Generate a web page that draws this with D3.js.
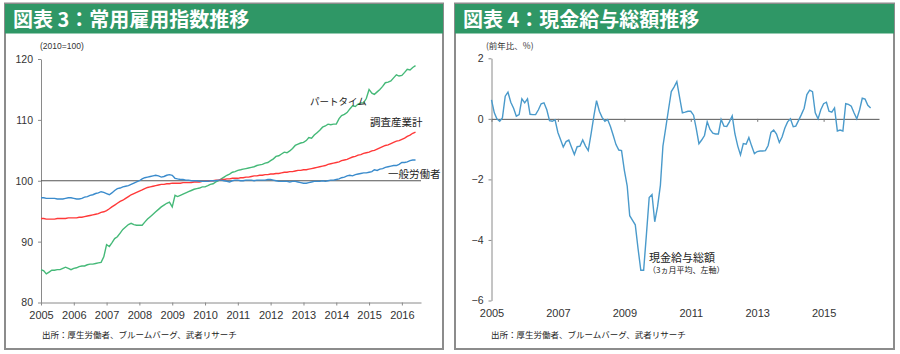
<!DOCTYPE html>
<html>
<head>
<meta charset="utf-8">
<script src="https://cdn.jsdelivr.net/npm/d3@7"></script>
<style>
    body { margin: 0; background: #ffffff; }
    text { font-family: "Liberation Sans", Arial, sans-serif; }
    .jp { font-family: "Noto Sans CJK JP", sans-serif; }
</style>
</head>
<body>
<script>
// monthly data, Jan 2005 - Jun 2016
let startYear = 2005;

let partTime = [
    85.4, 85.2, 84.7, 85.0, 85.3, 85.3, 85.4, 85.4, 85.6, 85.8, 85.6, 85.4,
    85.6, 85.7, 85.9, 86.0, 86.0, 86.2, 86.3, 86.3, 86.4, 86.5, 86.6, 87.5,
    89.5, 89.2, 89.8, 90.5, 90.8, 91.4, 92.0, 92.4, 92.8, 93.0, 92.8, 92.7,
    92.7, 92.7, 93.2, 93.7, 94.1, 94.5, 94.9, 95.3, 95.7, 96.0, 96.3, 96.5,
    95.7, 97.6, 97.4, 97.6, 97.8, 98.0, 98.2, 98.4, 98.6, 98.7, 98.8, 99.0,
    99.0, 99.2, 99.4, 99.5, 99.8, 100.0, 100.3, 100.6, 100.9, 101.1, 101.4, 101.5,
    101.7, 101.8, 101.9, 102.0, 102.1, 102.2, 102.3, 102.5, 102.6, 102.7, 102.9, 103.0,
    103.3, 103.6, 104.0, 104.1, 104.4, 104.7, 104.6, 104.9, 105.3, 105.8, 106.0, 106.2,
    106.3, 106.6, 107.1, 107.0, 107.5, 107.9, 108.3, 108.8, 109.0, 109.3, 109.2, 109.3,
    109.3, 110.2, 110.7, 110.9, 111.2, 111.8, 112.3, 112.2, 112.6, 112.8, 112.8, 113.5,
    115.0, 114.4, 114.2, 114.6, 115.0, 115.5, 116.1, 116.2, 116.4, 116.9, 117.4, 117.2,
    117.3, 117.8, 118.3, 118.2, 118.6, 118.9
];

let allIndustries = [
    93.8, 93.8, 93.7, 93.7, 93.7, 93.7, 93.8, 93.8, 93.8, 93.8, 93.9, 93.9,
    93.9, 93.9, 94.0, 94.0, 94.1, 94.2, 94.3, 94.4, 94.5, 94.6, 94.8, 94.9,
    95.1, 95.4, 95.7, 96.0, 96.3, 96.6, 96.8, 97.1, 97.4, 97.7, 97.9, 98.1,
    98.3, 98.5, 98.7, 98.9, 99.0, 99.1, 99.2, 99.3, 99.4, 99.4, 99.5, 99.5,
    99.6, 99.6, 99.6, 99.6, 99.7, 99.7, 99.7, 99.7, 99.8, 99.8, 99.8, 99.9,
    99.9, 99.9, 100.0, 100.0, 100.1, 100.1, 100.2, 100.2, 100.3, 100.3, 100.4, 100.4,
    100.4, 100.5, 100.5, 100.6, 100.6, 100.7, 100.8, 100.8, 100.9, 100.9, 101.0, 101.0,
    101.1, 101.1, 101.2, 101.2, 101.3, 101.4, 101.4, 101.5, 101.5, 101.6, 101.7, 101.7,
    101.8, 101.8, 101.9, 102.0, 102.1, 102.2, 102.3, 102.4, 102.5, 102.7, 102.8, 102.9,
    103.0, 103.1, 103.3, 103.4, 103.5, 103.7, 103.9, 104.0, 104.2, 104.3, 104.5, 104.6,
    104.7, 104.9, 105.0, 105.2, 105.4, 105.6, 105.8, 105.9, 106.1, 106.3, 106.5, 106.6,
    106.8, 107.0, 107.3, 107.5, 107.8, 108.0
];

let generalWorkers = [
    97.2, 97.2, 97.1, 97.1, 97.1, 97.1, 97.0, 97.0, 97.0, 97.1, 97.2, 97.2,
    97.1, 97.0, 97.0, 97.1, 97.3, 97.4, 97.6, 97.7, 97.9, 98.0, 98.2, 98.1,
    97.9, 97.7, 98.0, 98.4, 98.7, 98.8, 99.0, 99.1, 99.2, 99.4, 99.6, 99.8,
    100.0, 100.3, 100.5, 100.6, 100.7, 100.8, 100.9, 100.8, 100.6, 100.7, 100.9, 101.0,
    100.9, 100.4, 100.3, 100.2, 100.2, 100.1, 100.1, 100.0, 100.0, 100.0, 99.9, 99.9,
    99.9, 99.9, 100.0, 100.0, 100.0, 100.1, 100.1, 100.0, 99.9, 99.8, 100.0, 100.1,
    100.1, 100.0, 100.0, 100.1, 100.1, 100.1, 100.0, 100.1, 100.1, 100.1, 100.1, 100.2,
    100.2, 100.1, 100.0, 99.9, 99.9, 99.9, 99.9, 99.8, 99.9, 99.9, 99.8, 99.7,
    99.6, 99.6, 99.7, 99.8, 99.9, 99.9, 99.9, 100.0, 99.9, 100.0, 100.1, 100.1,
    100.2, 100.3, 100.5, 100.6, 100.8, 100.9, 100.8, 101.0, 101.1, 101.2, 101.3, 101.3,
    101.4, 101.5, 101.8, 101.7, 101.9, 102.0, 102.2, 102.3, 102.4, 102.5, 102.5, 102.7,
    103.0, 103.0, 103.1, 103.3, 103.4, 103.4
];

let cashEarnings = [
    0.63, 0.2, 0.0, -0.08, 0.03, 0.75, 0.88, 0.55, 0.35, 0.09, 0.14, 0.66,
    0.53, 0.66, 0.15, 0.14, 0.14, 0.3, 0.5, 0.53, 0.3, -0.06, -0.08, -0.03,
    -0.45, -0.7, -0.93, -0.75, -0.7, -0.95, -1.18, -0.92, -0.9, -0.7, -0.9, -1.05,
    -0.5, 0.1, 0.6, 0.25, 0.05, -0.08, -0.02, -0.25, -0.55, -0.85, -1.03, -1.05,
    -1.7, -2.21, -3.2, -3.35, -3.5, -4.3, -5.0, -5.0, -3.8, -2.6, -2.5, -3.4,
    -2.9, -2.2, -0.9, -0.3, 0.3, 0.9, 1.05, 1.23, 0.7, 0.2, 0.22, 0.25,
    0.25, 0.12, -0.3, -0.82, -0.7, -0.55, -0.1, -0.35, -0.47, -0.5, -0.5, -0.02,
    -0.24, -0.25, -0.1, 0.1, -0.5, -0.9, -1.19, -0.82, -0.84, -0.62, -0.9, -1.15,
    -1.08, -1.06, -1.06, -1.05, -0.88, -0.45, -0.37, -0.5, -0.78, -0.6, -0.3, -0.1,
    0.0, -0.26, -0.24, -0.05, 0.14, 0.35, 0.8, 0.95, 0.9, 0.2, 0.0, 0.3,
    0.5, 0.55, 0.25, 0.22, 0.36, -0.4, -0.37, -0.4, 0.5, 0.48, 0.42, 0.2,
    0.0, 0.3, 0.68, 0.65, 0.45, 0.36
];

let leftYTicks = [80, 90, 100, 110, 120];
let leftXTickYears = [2005, 2006, 2007, 2008, 2009, 2010, 2011, 2012, 2013, 2014, 2015, 2016];
let rightYTicks = [-6, -4, -2, 0, 2];
let rightXTickYears = [2005, 2007, 2009, 2011, 2013, 2015];

let leftSeries = [
    {name: "パートタイム", values: partTime, color: "#45b978"},
    {name: "調査産業計", values: allIndustries, color: "#ff3838"},
    {name: "一般労働者", values: generalWorkers, color: "#3a8bcc"}
];

let monthDate = (i) => new Date(startYear, i, 1);
let yearDate = (y) => new Date(y, 0, 1);

let svg = d3.select("body")
            .append("svg")
            .attr("width", 900)
            .attr("height", 354);

// panel frame + green title bar
let drawPanel = (x0, x1, title) => {
    svg.append("rect")
        .attr("x", x0).attr("y", 3.5)
        .attr("width", x1 - x0).attr("height", 345.5)
        .attr("fill", "#ffffff")
        .attr("stroke", "#8c8c8c")
        .attr("stroke-width", 2);
    svg.append("rect")
        .attr("x", x0).attr("y", 4)
        .attr("width", x1 - x0).attr("height", 29.5)
        .attr("fill", "#2f9766");
    svg.append("text")
        .attr("class", "jp")
        .attr("x", x0 + 8).attr("y", 27)
        .attr("font-size", 20)
        .attr("font-weight", 700)
        .attr("fill", "#ffffff")
        .text(title);
};

drawPanel(5, 443, "図表 3：常用雇用指数推移");
drawPanel(455, 894, "図表 4：現金給与総額推移");

// ---------- left chart ----------
let xL = d3.scaleTime()
            .domain([yearDate(2005), new Date(2016, 7, 1)])
            .range([41, 421]);
let yL = d3.scaleLinear()
            .domain([80, 120])
            .range([302.5, 59]);

let styleAxis = (g) => {
    g.selectAll("path, line").attr("stroke", "#8a8a8a");
    g.selectAll("text").attr("fill", "#333").style("font-family", "Liberation Sans, Arial");
};

svg.append("g")
    .attr("transform", `translate(41,0)`)
    .call(d3.axisLeft(yL).tickValues(leftYTicks).tickSize(3).tickSizeOuter(0).tickPadding(5))
    .attr("font-size", 10.5)
    .call(styleAxis);

svg.append("g")
    .attr("transform", `translate(0,${yL(80)})`)
    .call(d3.axisBottom(xL)
            .tickValues(leftXTickYears.map(yearDate))
            .tickFormat(d3.timeFormat("%Y"))
            .tickSize(3).tickSizeOuter(0).tickPadding(6))
    .attr("font-size", 11)
    .call(styleAxis);

// 100 reference line
svg.append("line")
    .attr("x1", xL.range()[0]).attr("x2", xL.range()[1])
    .attr("y1", yL(100)).attr("y2", yL(100))
    .attr("stroke", "#555")
    .attr("stroke-width", 1);

let lineL = d3.line()
                .x((d, i) => xL(monthDate(i)))
                .y((d) => yL(d));

svg.selectAll(".left-line")
    .data(leftSeries)
    .enter()
    .append("path")
        .attr("class", "left-line")
        .attr("d", (d) => lineL(d.values))
        .attr("fill", "none")
        .attr("stroke", (d) => d.color)
        .attr("stroke-width", 1.4);

let leftLabels = [
    {text: "パートタイム", x: 310, y: 105, size: 9.5},
    {text: "調査産業計", x: 370, y: 125.5, size: 10.5},
    {text: "一般労働者", x: 388, y: 177.5, size: 10.5}
];
svg.selectAll(".left-label")
    .data(leftLabels)
    .enter()
    .append("text")
        .attr("class", "jp left-label")
        .attr("x", (d) => d.x)
        .attr("y", (d) => d.y)
        .attr("font-size", (d) => d.size)
        .attr("fill", "#222")
        .text((d) => d.text);

svg.append("text")
    .attr("x", 40).attr("y", 49)
    .attr("font-size", 8.5)
    .attr("fill", "#333")
    .text("(2010=100)");

svg.append("text")
    .attr("class", "jp")
    .attr("x", 42).attr("y", 338)
    .attr("font-size", 8.5)
    .attr("fill", "#222")
    .text("出所：厚生労働者、ブルームバーグ、武者リサーチ");

// ---------- right chart ----------
let xR = d3.scaleTime()
            .domain([yearDate(2005), new Date(2016, 8, 1)])
            .range([491.5, 879]);
let yR = d3.scaleLinear()
            .domain([-6, 2])
            .range([300.5, 58.3]);

svg.append("g")
    .attr("transform", `translate(491.5,0)`)
    .call(d3.axisLeft(yR).tickValues(rightYTicks).tickSize(3).tickSizeOuter(0).tickPadding(5))
    .attr("font-size", 10.5)
    .call(styleAxis);

// zero axis with ticks, labels sit at the bottom
svg.append("g")
    .attr("transform", `translate(0,${yR(0)})`)
    .call(d3.axisBottom(xR)
            .tickValues(rightXTickYears.map(yearDate))
            .tickFormat("")
            .tickSize(3).tickSizeOuter(0))
    .call((g) => g.select(".domain").attr("stroke", "#555"))
    .call((g) => g.selectAll(".tick line").attr("stroke", "#777"));

svg.append("g")
    .attr("transform", `translate(0,${yR(-6)})`)
    .call(d3.axisBottom(xR)
            .tickValues(rightXTickYears.map(yearDate))
            .tickFormat(d3.timeFormat("%Y"))
            .tickSize(0).tickPadding(9))
    .attr("font-size", 11)
    .call((g) => g.select(".domain").remove())
    .call(styleAxis);

let lineR = d3.line()
                .x((d, i) => xR(monthDate(i)))
                .y((d) => yR(d));

svg.append("path")
    .datum(cashEarnings)
    .attr("d", lineR)
    .attr("fill", "none")
    .attr("stroke", "#4a9acb")
    .attr("stroke-width", 1.4);

svg.append("text")
    .attr("class", "jp")
    .attr("x", 649).attr("y", 262)
    .attr("font-size", 11)
    .attr("fill", "#222")
    .text("現金給与総額");

svg.append("text")
    .attr("class", "jp")
    .attr("x", 648).attr("y", 273)
    .attr("font-size", 8)
    .attr("fill", "#222")
    .text("（3ヵ月平均、左軸）");

svg.append("text")
    .attr("class", "jp")
    .attr("x", 486).attr("y", 49)
    .attr("font-size", 8.5)
    .attr("fill", "#333")
    .text("(前年比、%)");

svg.append("text")
    .attr("class", "jp")
    .attr("x", 491).attr("y", 338)
    .attr("font-size", 8.5)
    .attr("fill", "#222")
    .text("出所：厚生労働者、ブルームバーグ、武者リサーチ");
</script>
</body>
</html>
